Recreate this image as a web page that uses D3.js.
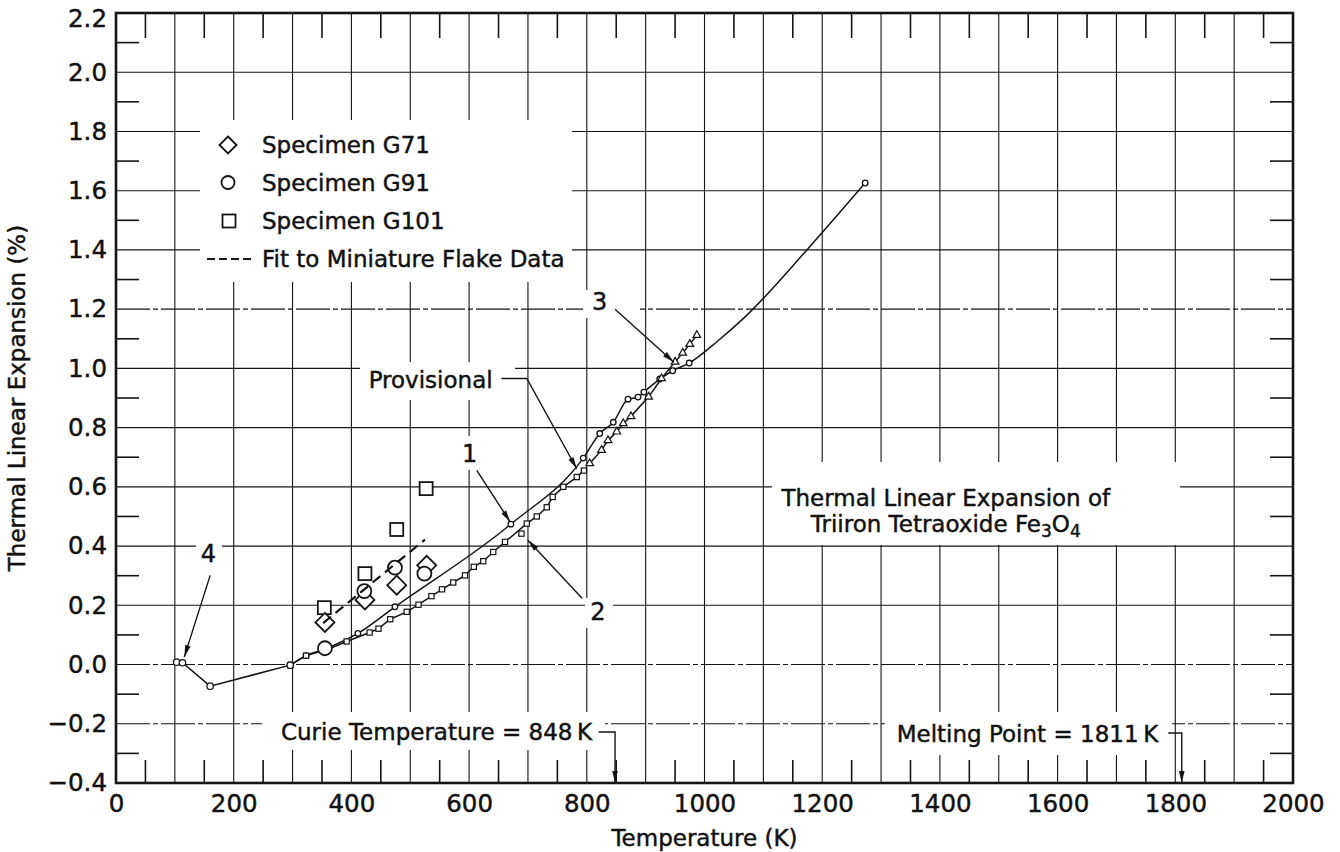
<!DOCTYPE html>
<html>
<head>
<meta charset="utf-8">
<script src="https://cdn.jsdelivr.net/npm/d3@7/dist/d3.min.js"></script>
<style>
html,body{margin:0;padding:0;background:#fff;}
svg{display:block;}
text{font-family:"DejaVu Sans",sans-serif;fill:#111;stroke:#111;stroke-width:0.45px;}
</style>
</head>
<body>
<svg id="chart" width="1340" height="852"></svg>
<script>
// ---------------- data ----------------
const xTickLabels = [0,200,400,600,800,1000,1200,1400,1600,1800,2000];
const yTickLabels = [-0.4,-0.2,0.0,0.2,0.4,0.6,0.8,1.0,1.2,1.4,1.6,1.8,2.0,2.2];

// curve 1 (measured points) and its unmarked trace vertices
const curve1 = [[296,-0.002],[323,0.03],[358,0.055],[411,0.105],[474,0.195],[671,0.474],[794,0.697],[822,0.78],[845,0.818],[870,0.896],[887,0.903],[897,0.92],[924,0.964],[946,0.992],[974,1.018],[1273,1.626]];
const curve1Trace = [[1021,1.09],[1069,1.174],[1174,1.40]];
// curve 2
const curve2 = [[296,-0.002],[323,0.03],[358,0.05],[392,0.078],[431,0.108],[446,0.121],[466,0.153],[494,0.178],[514,0.202],[536,0.231],[554,0.254],[573,0.277],[593,0.301],[608,0.33],[624,0.349],[641,0.38],[661,0.414],[698,0.476],[715,0.50],[732,0.531],[742,0.566],[760,0.60],[783,0.633],[795,0.655]];
const curve2Extra = [[689,0.442]];
// curve 3
const curve3 = [[805,0.679],[825,0.724],[836,0.757],[851,0.786],[862,0.814],[875,0.838],[905,0.904],[927,0.966],[950,1.022],[963,1.052],[975,1.082],[987,1.112]];
// curve 4
const curve4 = [[103,0.008],[113,0.006],[160,-0.073],[296,-0.002]];
// specimens
const specimenG71 = [[355,0.142],[423,0.218],[477,0.268],[528,0.335]];
const specimenG91 = [[355,0.055],[422,0.248],[474,0.327],[524,0.307]];
const specimenG101 = [[354,0.192],[423,0.307],[477,0.456],[527,0.594]];
const flakeFit = [[352,0.14],[525,0.422]];
const curieTemp = 848;
const meltingPoint = 1811;

// ---------------- layout ----------------
const svg = d3.select("#chart");
const L = 116, R = 1293, T = 13, B = 783;
const x = d3.scaleLinear().domain([0,2000]).range([L,R]);
const y = d3.scaleLinear().domain([-0.4,2.2]).range([B,T]);
const ink = "#141414";

// grid lines
const grid = svg.append("g").attr("stroke", ink).attr("stroke-width", 1.1);
d3.range(100, 2000, 100).forEach(t => {
  grid.append("line").attr("x1", x(t)).attr("x2", x(t)).attr("y1", T).attr("y2", B);
});
const brokenRows = [1.2, 0.0, -0.2];
d3.range(-0.2, 2.19, 0.2).forEach(v => {
  const ln = grid.append("line").attr("x1", L).attr("x2", R).attr("y1", y(v)).attr("y2", y(v));
  if (brokenRows.some(b => Math.abs(b - v) < 1e-6)) ln.attr("stroke-dasharray", "34,3,5,3");
});
// minor ticks (50 K, 0.1)
d3.range(50, 2000, 100).forEach(t => {
  grid.append("line").attr("x1", x(t)).attr("x2", x(t)).attr("y1", T).attr("y2", T + 25).attr("stroke-width", 1.6);
  grid.append("line").attr("x1", x(t)).attr("x2", x(t)).attr("y1", B).attr("y2", B - 23).attr("stroke-width", 1.6);
});
d3.range(-0.3, 2.2, 0.2).forEach(v => {
  grid.append("line").attr("x1", L).attr("x2", L + 23).attr("y1", y(v)).attr("y2", y(v)).attr("stroke-width", 1.6);
  grid.append("line").attr("x1", R).attr("x2", R - 23).attr("y1", y(v)).attr("y2", y(v)).attr("stroke-width", 1.6);
});

// white masks behind text blocks
const masks = [
  [200, 120, 372, 162],   // legend
  [360, 362, 155, 38],    // Provisional
  [455, 436, 36, 34],     // 1
  [585, 598, 28, 30],     // 2
  [583, 290, 57, 28],     // 3
  [196, 540, 26, 28],     // 4
  [262, 712, 343, 38],    // Curie
  [885, 712, 287, 43],    // Melting
  [772, 462, 408, 83]     // title block
];
svg.append("g").selectAll("rect").data(masks).join("rect")
  .attr("x", d => d[0]).attr("y", d => d[1]).attr("width", d => d[2]).attr("height", d => d[3])
  .attr("fill", "#fff");

// frame
svg.append("rect").attr("x", L).attr("y", T).attr("width", R - L).attr("height", B - T)
  .attr("fill", "none").attr("stroke", ink).attr("stroke-width", 2.6);

// axes
const xAxis = d3.axisBottom(x).tickValues(xTickLabels).tickSize(0).tickPadding(12).tickFormat(d3.format("d"));
const gx = svg.append("g").attr("transform", `translate(0,${B})`).call(xAxis);
gx.select(".domain").remove();
gx.selectAll("text").attr("font-size", 24.5).attr("fill", ink).style("font-family", '"DejaVu Sans",sans-serif');

const yAxis = d3.axisLeft(y).tickValues(yTickLabels).tickSize(0).tickPadding(9).tickFormat(d3.format(".1f"));
const gy = svg.append("g").attr("transform", `translate(${L},0)`).call(yAxis);
gy.select(".domain").remove();
gy.selectAll("text").attr("font-size", 24.5).attr("fill", ink).style("font-family", '"DejaVu Sans",sans-serif');
gy.selectAll(".tick").filter(d => d > 2.1).select("text").attr("dy", "0.55em");

// axis titles
svg.append("text").attr("x", x(1000)).attr("y", 846).attr("text-anchor", "middle")
  .attr("font-size", 23).text("Temperature (K)");
svg.append("text").attr("transform", `translate(25,${(T + B) / 2}) rotate(-90)`)
  .attr("text-anchor", "middle").attr("font-size", 23).text("Thermal Linear Expansion (%)");

// ---------------- data curves ----------------
const line = d3.line().x(d => x(d[0])).y(d => y(d[1]));
const plot = svg.append("g");

const c1Path = curve1.concat(curve1Trace).sort((a, b) => a[0] - b[0]);
plot.append("path").attr("d", line.curve(d3.curveMonotoneX)(c1Path))
  .attr("fill", "none").attr("stroke", ink).attr("stroke-width", 1.5);
line.curve(d3.curveLinear);
[curve2, curve3, curve4].forEach(c => {
  plot.append("path").attr("d", line(c)).attr("fill", "none").attr("stroke", ink).attr("stroke-width", 1.5);
});

// small markers
plot.append("g").selectAll("circle").data(curve1).join("circle")
  .attr("cx", d => x(d[0])).attr("cy", d => y(d[1])).attr("r", 2.8)
  .attr("fill", "#fff").attr("stroke", ink).attr("stroke-width", 1.3);
plot.append("g").selectAll("rect").data(curve2.concat(curve2Extra)).join("rect")
  .attr("x", d => x(d[0]) - 2.6).attr("y", d => y(d[1]) - 2.6).attr("width", 5.2).attr("height", 5.2)
  .attr("fill", "#fff").attr("stroke", ink).attr("stroke-width", 1.2);
const tri = d3.symbol().type(d3.symbolTriangle).size(26);
plot.append("g").selectAll("path").data(curve3).join("path")
  .attr("transform", d => `translate(${x(d[0])},${y(d[1])})`).attr("d", tri)
  .attr("fill", "#fff").attr("stroke", ink).attr("stroke-width", 1.2);
plot.append("g").selectAll("circle").data(curve4).join("circle")
  .attr("cx", d => x(d[0])).attr("cy", d => y(d[1])).attr("r", 3.2)
  .attr("fill", "#fff").attr("stroke", ink).attr("stroke-width", 1.3);

// specimen markers
function diamond(g, cx, cy, s) {
  g.append("path").attr("d", `M${cx},${cy - s}L${cx + s},${cy}L${cx},${cy + s}L${cx - s},${cy}Z`)
    .attr("fill", "#fff").attr("stroke", ink).attr("stroke-width", 1.8);
}
function square(g, cx, cy, s) {
  g.append("rect").attr("x", cx - s).attr("y", cy - s).attr("width", 2 * s).attr("height", 2 * s)
    .attr("fill", "#fff").attr("stroke", ink).attr("stroke-width", 1.8);
}
function ring(g, cx, cy, r) {
  g.append("circle").attr("cx", cx).attr("cy", cy).attr("r", r)
    .attr("fill", "#fff").attr("stroke", ink).attr("stroke-width", 1.8);
}
const spec = svg.append("g");
specimenG101.forEach(d => square(spec, x(d[0]), y(d[1]), 6.5));
specimenG71.forEach(d => diamond(spec, x(d[0]), y(d[1]), 9.5));
specimenG91.forEach(d => ring(spec, x(d[0]), y(d[1]), 7));
// flake-data fit (dashed), drawn over the markers
svg.append("path").attr("d", line(flakeFit)).attr("fill", "none").attr("stroke", ink)
  .attr("stroke-width", 2.2).attr("stroke-dasharray", "10,6");

// ---------------- annotations ----------------
const ann = svg.append("g");
function arrow(pts, head = true) {
  const p = pts.map(d => [x(d[0]), y(d[1])]);
  ann.append("path").attr("d", d3.line()(p)).attr("fill", "none").attr("stroke", ink).attr("stroke-width", 1.4);
  if (head) {
    const [x1, y1] = p[p.length - 2], [x2, y2] = p[p.length - 1];
    const a = Math.atan2(y2 - y1, x2 - x1), len = 12, w = 2.8;
    const bx = x2 - len * Math.cos(a), by = y2 - len * Math.sin(a);
    ann.append("path").attr("d", `M${x2},${y2}L${bx - w * Math.sin(a)},${by + w * Math.cos(a)}L${bx + w * Math.sin(a)},${by - w * Math.cos(a)}Z`)
      .attr("fill", ink);
  }
}
function label(t, v, str, anchor = "middle", size = 23) {
  ann.append("text").attr("x", x(t)).attr("y", y(v)).attr("text-anchor", anchor).attr("font-size", size).text(str);
}
// 1
label(601, 0.683, "1", "middle", 24);
arrow([[613, 0.656], [670, 0.481]]);
// 2
label(819, 0.150, "2", "middle", 24);
arrow([[792, 0.224], [700, 0.42]]);
// 3
label(822, 1.197, "3", "middle", 24);
arrow([[848, 1.20], [948, 1.021]]);
// 4
label(157, 0.345, "4", "middle", 24);
arrow([[160, 0.301], [116, 0.025]]);
// Provisional
label(640, 0.933, "Provisional", "end");
arrow([[655, 0.966], [698, 0.966], [783, 0.661]]);
// Curie
label(809, -0.256, "Curie Temperature = 848\u2009K", "end");
arrow([[820, -0.228], [curieTemp, -0.228], [curieTemp, -0.4]]);
// Melting
label(1771, -0.262, "Melting Point = 1811\u2009K", "end");
arrow([[1788, -0.231], [meltingPoint, -0.231], [meltingPoint, -0.4]]);

// title block
const tt = ann.append("text").attr("x", x(1410)).attr("y", y(0.534)).attr("text-anchor", "middle").attr("font-size", 23);
tt.text("Thermal Linear Expansion of");
const t2 = ann.append("text").attr("x", x(1410)).attr("y", y(0.447)).attr("text-anchor", "middle").attr("font-size", 23);
t2.append("tspan").text("Triiron Tetraoxide Fe");
t2.append("tspan").attr("font-size", 17).attr("dy", 5).text("3");
t2.append("tspan").attr("dy", -5).text("O");
t2.append("tspan").attr("font-size", 17).attr("dy", 5).text("4");

// ---------------- legend ----------------
const lg = svg.append("g");
diamond(lg, 228, 145, 8.5);
ring(lg, 228, 182.5, 6.5);
square(lg, 229, 221, 6.5);
lg.append("line").attr("x1", 207).attr("x2", 253).attr("y1", 259).attr("y2", 259)
  .attr("stroke", ink).attr("stroke-width", 2).attr("stroke-dasharray", "8,4");
const legendText = ["Specimen G71", "Specimen G91", "Specimen G101", "Fit to Miniature Flake Data"];
const legendY = [153, 191, 229, 267];
legendText.forEach((s, i) => {
  lg.append("text").attr("x", 262).attr("y", legendY[i]).attr("font-size", 23).text(s);
});
</script>
</body>
</html>
